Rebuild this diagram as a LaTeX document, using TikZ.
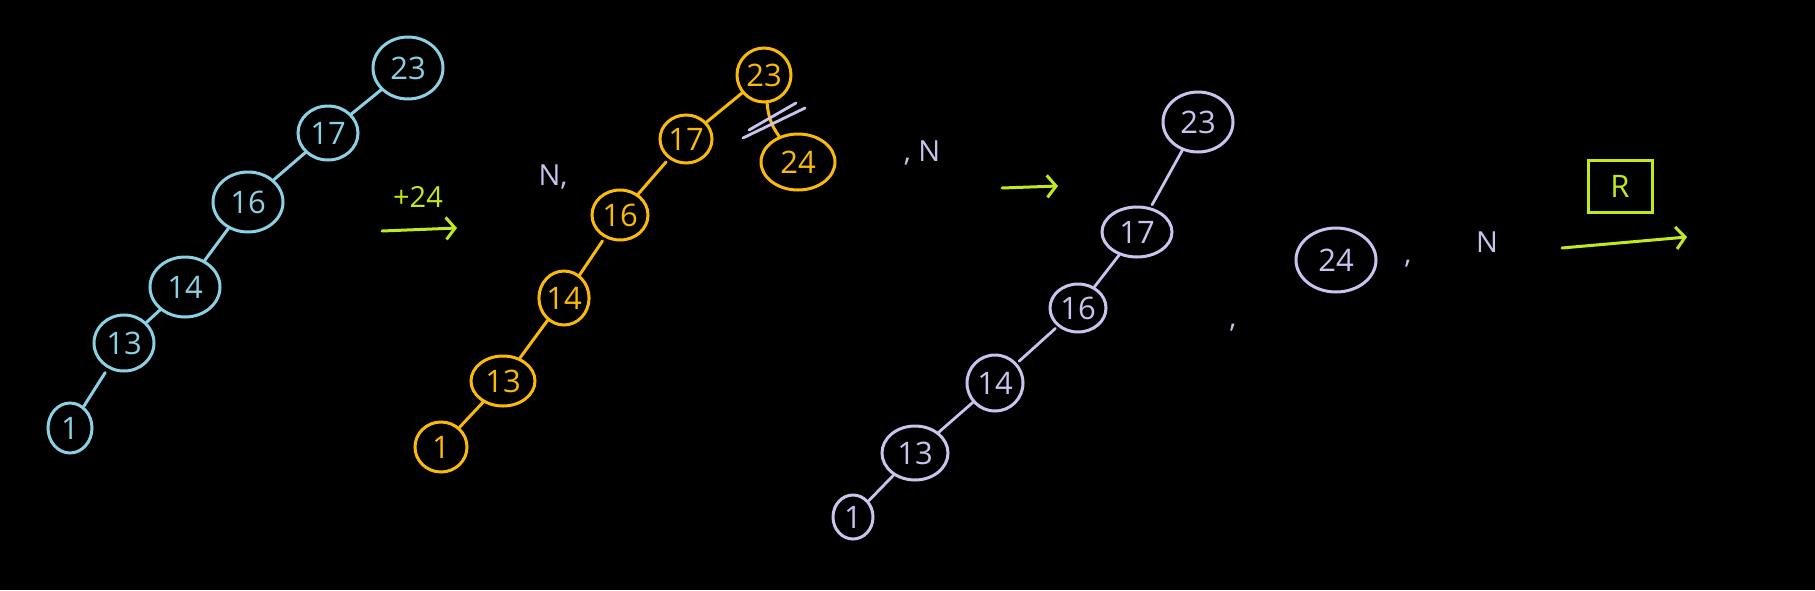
\documentclass[tikz,border=0pt]{standalone}
\usepackage{fontspec}
\setmainfont{Open Sans}
\usetikzlibrary{shapes.geometric,arrows.meta}
\definecolor{cblue}{RGB}{140,208,228}
\definecolor{corange}{RGB}{250,186,10}
\definecolor{clav}{RGB}{200,196,238}
\definecolor{cgreen}{RGB}{192,234,30}
\newcommand\handfont{\fontsize{31}{36}\selectfont}
\newcommand\smallhand{\fontsize{29}{34}\selectfont}
\begin{document}
\begin{tikzpicture}[x=1pt,y=-1pt,
  tn/.style={ellipse, draw, inner sep=0pt, line width=3pt, font=\handfont},
  bl/.style={tn, draw=cblue, text=cblue},
  orn/.style={tn, draw=corange, text=corange},
  lv/.style={tn, draw=clav, text=clav},
  bedge/.style={draw=cblue, line width=3pt, line cap=round},
  oedge/.style={draw=corange, line width=3pt, line cap=round},
  ledge/.style={draw=clav, line width=2.8pt, line cap=round},
  garrow/.style={draw=cgreen, line width=3pt, line cap=round, -{Straight Barb[length=9pt,width=22pt,line width=3pt]}},
  lbl/.style={inner sep=0pt, font=\smallhand},
]
\fill[black] (0,0) rectangle (1815,590);
\useasboundingbox (0,0) rectangle (1815,590);

% blue tree
\node[bl, minimum width=70pt, minimum height=62pt] (b23) at (408,68) {23};
\node[bl, minimum width=60pt, minimum height=54pt] (b17) at (328,133) {17};
\node[bl, minimum width=70pt, minimum height=60pt] (b16) at (248,202) {16};
\node[bl, minimum width=70pt, minimum height=60pt] (b14) at (185,287) {14};
\node[bl, minimum width=60pt, minimum height=56pt] (b13) at (124,343) {13};
\node[bl, minimum width=44pt, minimum height=50pt] (b1) at (70,428) {1};
\draw[bedge] (b23) -- (b17);
\draw[bedge] (b17) -- (b16);
\draw[bedge] (b16) -- (b14);
\draw[bedge] (b14) -- (b13);
\draw[bedge, shorten <=5pt] (b13) -- (b1);

% +24 arrow
\node[lbl, text=cgreen] (plus) at (418,197) {+24};
\coordinate (a1s) at (382,231);
\coordinate (a1e) at (457,228);
\draw[garrow] (a1s) -- (a1e);

% orange tree
\node[orn, minimum width=54pt, minimum height=54pt] (o23) at (764,75) {23};
\node[orn, minimum width=52pt, minimum height=48pt] (o17) at (686,139) {17};
\node[orn, minimum width=74pt, minimum height=56pt] (o24) at (798,162) {24};
\node[orn, minimum width=56pt, minimum height=50pt] (o16) at (620,215) {16};
\node[orn, minimum width=48pt, minimum height=54pt] (o14) at (564,298) {14};
\node[orn, minimum width=64pt, minimum height=50pt] (o13) at (503,381) {13};
\node[orn, minimum width=52pt, minimum height=50pt] (o1) at (441,447) {1};
\draw[oedge] (o23) -- (o17);
\draw[oedge, shorten <=4pt] (o17) -- (o16);
\draw[oedge, shorten <=4pt] (o16) -- (o14);
\draw[oedge] (o14) -- (o13);
\draw[oedge] (o13) -- (o1);
\draw[oedge] (o23) to[bend right=15] (o24);
% strike marks
\draw[ledge] (743,138) -- (805,108);
\draw[ledge] (749,130) -- (796,103);

\node[lbl, text=clav] (n1) at (553,177) {N,};
\node[lbl, text=clav] (n2) at (922,153) {, N};
\coordinate (a2s) at (1002,188);
\coordinate (a2e) at (1058,186);
\draw[garrow] (a2s) -- (a2e);

% lavender tree
\node[lv, minimum width=70pt, minimum height=60pt] (l23) at (1198,122) {23};
\node[lv, minimum width=70pt, minimum height=50pt] (l17) at (1137,232) {17};
\node[lv, minimum width=56pt, minimum height=48pt] (l16) at (1078,308) {16};
\node[lv, minimum width=56pt, minimum height=56pt] (l14) at (995,383) {14};
\node[lv, minimum width=66pt, minimum height=54pt] (l13) at (915,453) {13};
\node[lv, minimum width=40pt, minimum height=44pt] (l1) at (853,517) {1};
\draw[ledge, shorten >=3pt] (l23) -- (l17);
\draw[ledge] (l17) -- (l16);
\draw[ledge, shorten <=3pt, shorten >=3pt] (l16) -- (l14);
\draw[ledge] (l14) -- (l13);
\draw[ledge] (l13) -- (l1);

\node[lbl, text=clav] (c1) at (1233,328) {,};
\node[lv, minimum width=80pt, minimum height=64pt] (l24) at (1336,260) {24};
\node[lbl, text=clav] (c2) at (1408,264) {,};
\node[lbl, text=clav] (n3) at (1487,242) {N};
\node[draw=cgreen, text=cgreen, line width=3pt, minimum width=64pt, minimum height=52pt, inner sep=0pt, font=\handfont] (R) at (1620,186) {R};
\coordinate (a3s) at (1562,248);
\coordinate (a3e) at (1687,237);
\draw[garrow] (a3s) -- (a3e);
\end{tikzpicture}
\end{document}
